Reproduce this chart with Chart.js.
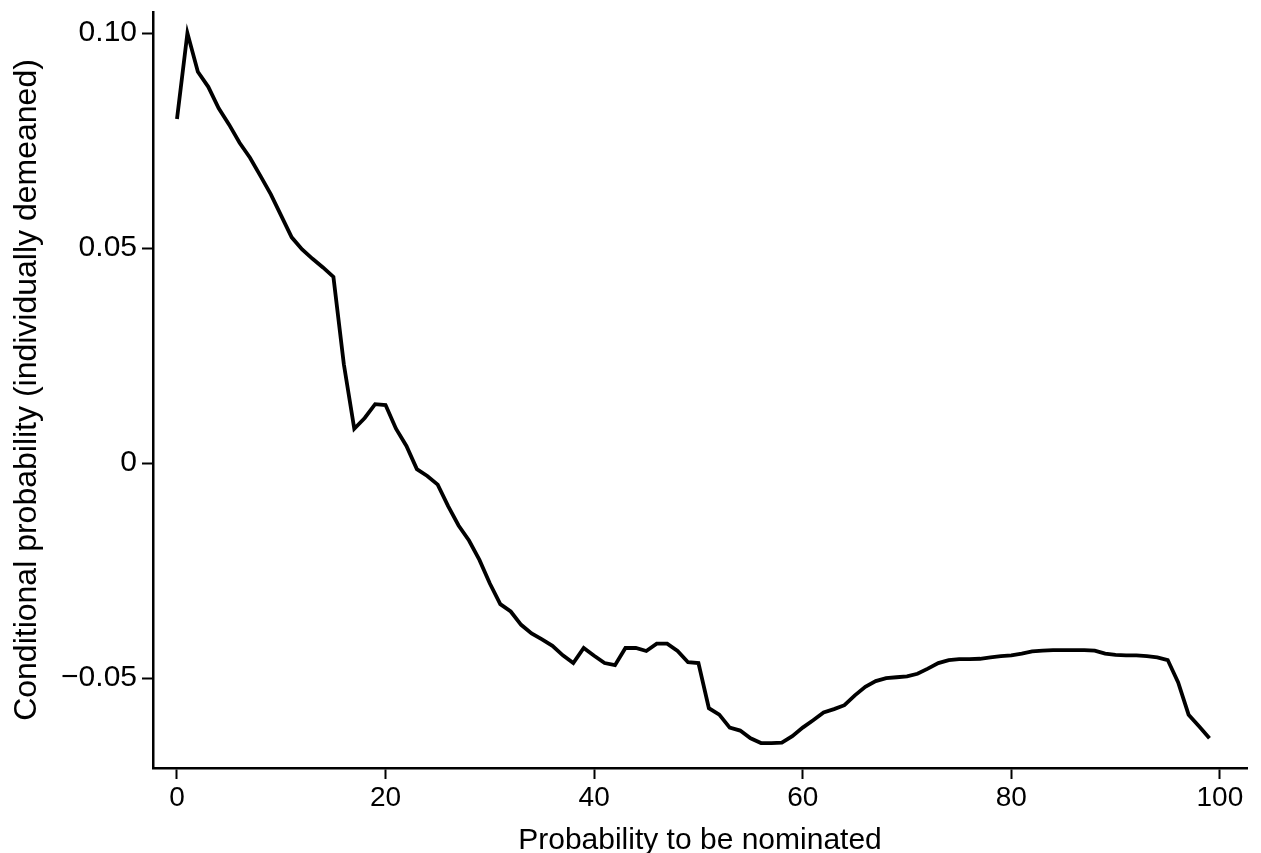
<!DOCTYPE html>
<html>
<head>
<meta charset="utf-8">
<script src="https://cdn.jsdelivr.net/npm/chart.js@4"></script>
<style>
  html, body { margin: 0; padding: 0; background: #fff; }
  #wrap { width: 1261px; height: 853px; }
</style>
</head>
<body>
<div id="wrap"><canvas id="chart"></canvas></div>
<script>
// ---- data ----
const xValues = [
  0, 1, 2, 3, 4, 5, 6, 7, 8, 9,
  10, 11, 12, 13, 14, 15, 16, 17, 18, 19,
  20, 21, 22, 23, 24, 25, 26, 27, 28, 29,
  30, 31, 32, 33, 34, 35, 36, 37, 38, 39,
  40, 41, 42, 43, 44, 45, 46, 47, 48, 49,
  50, 51, 52, 53, 54, 55, 56, 57, 58, 59,
  60, 61, 62, 63, 64, 65, 66, 67, 68, 69,
  70, 71, 72, 73, 74, 75, 76, 77, 78, 79,
  80, 81, 82, 83, 84, 85, 86, 87, 88, 89,
  90, 91, 92, 93, 94, 95, 96, 97, 98, 99
];
const condProb = [
  0.0800, 0.1000, 0.0910, 0.0875, 0.0825, 0.0787, 0.0745, 0.0710, 0.0668, 0.0625,
  0.0575, 0.0525, 0.0497, 0.0475, 0.0455, 0.0433, 0.0230, 0.0080, 0.0105, 0.0137,
  0.0135, 0.0080, 0.0040, -0.0014, -0.0030, -0.0050, -0.0100, -0.0145, -0.0180, -0.0225,
  -0.0280, -0.0328, -0.0345, -0.0376, -0.0396, -0.0410, -0.0425, -0.0447, -0.0465, -0.0430,
  -0.0448, -0.0465, -0.0470, -0.0430, -0.0430, -0.0437, -0.0420, -0.0420, -0.0437, -0.0463,
  -0.0465, -0.0570, -0.0585, -0.0615, -0.0622, -0.0640, -0.0651, -0.0651, -0.0650, -0.0635,
  -0.0615, -0.0598, -0.0580, -0.0572, -0.0563, -0.0540, -0.0520, -0.0507, -0.0500, -0.0498,
  -0.0496, -0.0490, -0.0478, -0.0465, -0.0458, -0.0456, -0.0456, -0.0455, -0.0452, -0.0449,
  -0.0447, -0.0443, -0.0438, -0.0436, -0.0435, -0.0435, -0.0435, -0.0435, -0.0436, -0.0443,
  -0.0446, -0.0447, -0.0447, -0.0449, -0.0452, -0.0458, -0.0510, -0.0585, -0.0612, -0.0640
];
const xTicks = [0, 20, 40, 60, 80, 100];
const yTicks = [-0.05, 0, 0.05, 0.10];
const yTickLabels = ["\u22120.05", "0", "0.05", "0.10"];

const xTitle = "Probability to be nominated";
const yTitle = "Conditional probability (individually demeaned)";

const FONT = "'Liberation Sans', Arial, Helvetica, sans-serif";

const points = xValues.map((x, i) => ({ x, y: condProb[i] }));

new Chart(document.getElementById("chart"), {
  type: "line",
  data: {
    datasets: [{
      data: points,
      borderColor: "#000",
      borderWidth: 3.8,
      pointRadius: 0,
      tension: 0,
      fill: false
    }]
  },
  options: {
    responsive: true,
    maintainAspectRatio: false,
    animation: false,
    layout: { padding: { left: 4, top: 12, right: 14, bottom: 0 } },
    plugins: { legend: { display: false }, tooltip: { enabled: false } },
    scales: {
      x: {
        type: "linear",
        min: -2.3,
        max: 102.6,
        afterBuildTicks: s => { s.ticks = xTicks.map(v => ({ value: v })); },
        afterFit: s => { s.height = 85; s.paddingLeft = 0; s.paddingRight = 0; },
        grid: { drawOnChartArea: false, drawTicks: true, tickLength: 11, tickWidth: 2, color: "#000" },
        border: { display: true, color: "#000", width: 2.5 },
        ticks: { color: "#000", font: { family: FONT, size: 28 }, padding: 2, maxRotation: 0 },
        title: {
          display: true, text: xTitle, color: "#000",
          font: { family: FONT, size: 30, lineHeight: 1 },
          padding: { top: 0, bottom: -3 }
        }
      },
      y: {
        type: "linear",
        min: -0.0709,
        max: 0.1049,
        afterBuildTicks: s => { s.ticks = yTicks.map(v => ({ value: v })); },
        afterFit: s => { s.width = 149; s.paddingTop = 0; s.paddingBottom = 0; },
        grid: { drawOnChartArea: false, drawTicks: true, tickLength: 11, tickWidth: 2, color: "#000" },
        border: { display: true, color: "#000", width: 2.5 },
        ticks: {
          color: "#000", font: { family: FONT, size: 30 }, padding: 5,
          callback: (v) => {
            const i = yTicks.findIndex(t => Math.abs(t - v) < 1e-9);
            return i >= 0 ? yTickLabels[i] : "";
          }
        },
        title: {
          display: true, text: yTitle, color: "#000",
          font: { family: FONT, size: 32, lineHeight: 1.1 },
          padding: { top: 6, bottom: 0 }
        }
      }
    }
  }
});
</script>
</body>
</html>
